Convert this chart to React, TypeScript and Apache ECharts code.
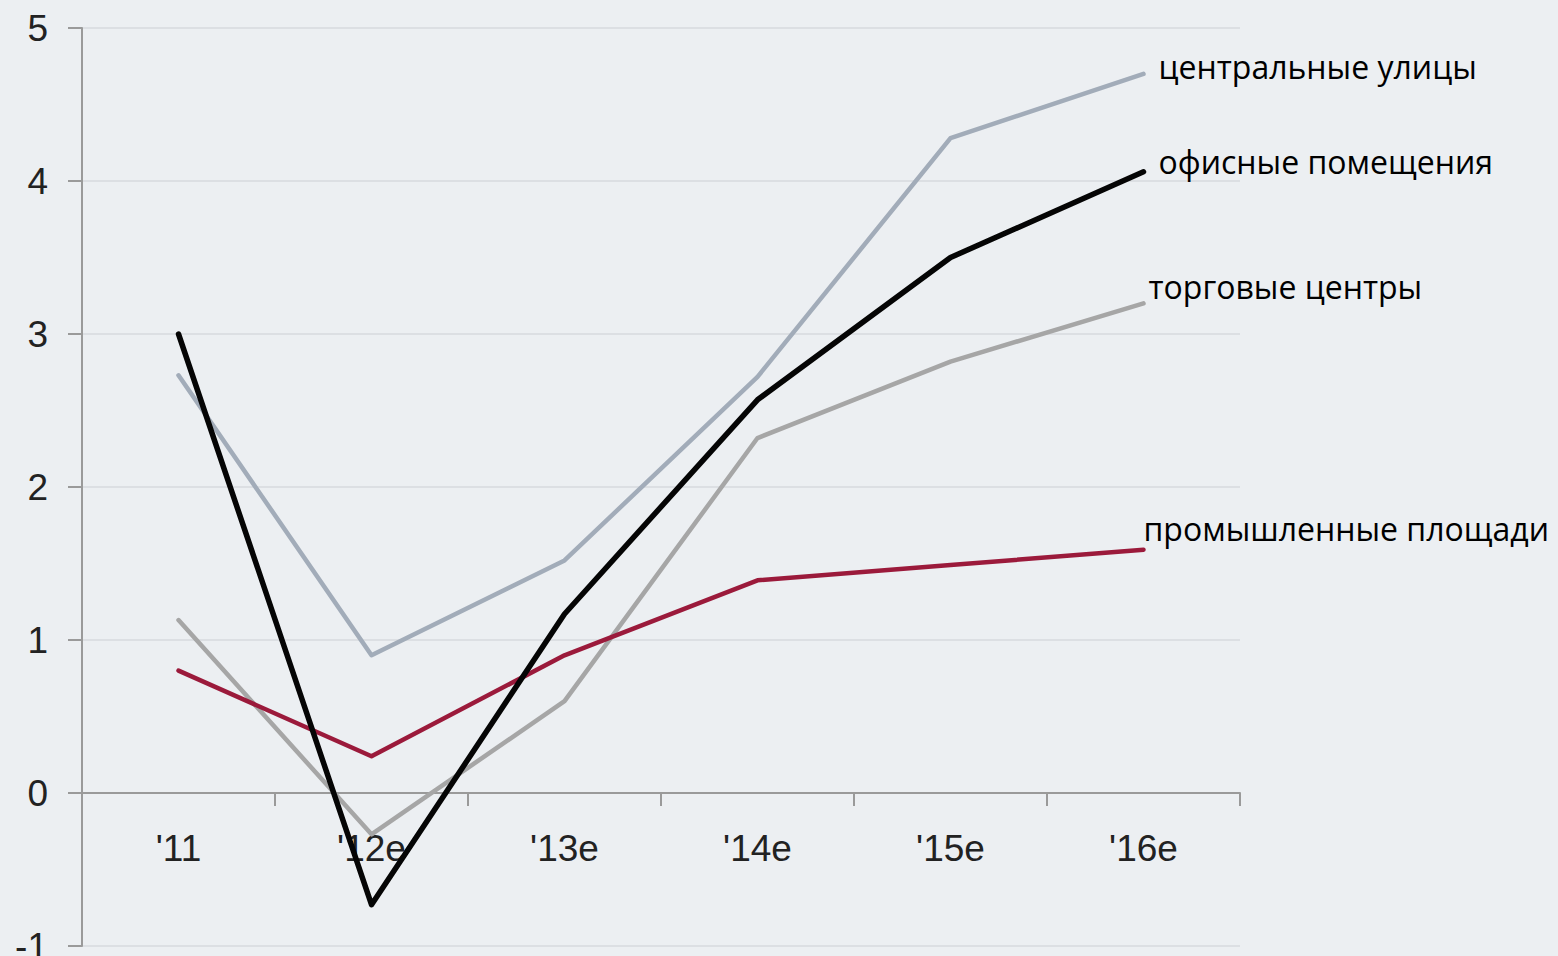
import React, { useEffect, useRef } from "react";
import * as echarts from "echarts";

// Year categories along the x axis
const years = ["'11", "'12e", "'13e", "'14e", "'15e", "'16e"];

// Growth values per segment
const centralStreets = [2.73, 0.9, 1.52, 2.72, 4.28, 4.7];
const offices = [3.0, -0.73, 1.17, 2.57, 3.5, 4.06];
const shoppingCentres = [1.13, -0.27, 0.6, 2.32, 2.82, 3.2];
const industrial = [0.8, 0.24, 0.9, 1.39, 1.49, 1.59];

const yTicks = [-1, 0, 1, 2, 3, 4, 5];

const labelFont = "'Open Sans', 'Noto Sans', sans-serif";
const axisFont = "'Liberation Sans', Arial, sans-serif";

function lineSeries(
  name: string,
  data: number[],
  color: string,
  width: number,
  offset: [number, number]
) {
  return {
    name,
    type: "line",
    data,
    symbol: "none",
    lineStyle: { color, width, cap: "round", join: "round" },
    endLabel: {
      show: true,
      formatter: () => name,
      distance: 0,
      offset,
      color: "#000",
      fontFamily: labelFont,
      fontSize: 32,
      align: "left",
      verticalAlign: "middle",
    },
  };
}

export default function App() {
  const ref = useRef<HTMLDivElement>(null);

  useEffect(() => {
    if (!ref.current) return;
    const chart = echarts.init(ref.current, undefined, { renderer: "svg" });
    chart.setOption({
      animation: false,
      backgroundColor: "#eceff2",
      grid: {
        left: 82,
        right: 318,
        top: 28,
        bottom: 10,
        containLabel: false,
        outerBoundsMode: "none",
      },
      xAxis: {
        type: "category",
        data: years,
        boundaryGap: true,
        axisLine: { onZero: true, lineStyle: { color: "#9a9a9a", width: 2 } },
        axisTick: { show: true, length: 13, inside: false, lineStyle: { color: "#9a9a9a", width: 2 } },
        axisLabel: {
          // category labels sit just under the zero line, not at the grid's bottom
          margin: -116,
          color: "#222",
          fontFamily: axisFont,
          fontSize: 37,
        },
        splitLine: { show: false },
      },
      yAxis: {
        type: "value",
        min: yTicks[0],
        max: yTicks[yTicks.length - 1],
        interval: 1,
        axisLine: { show: true, lineStyle: { color: "#9a9a9a", width: 2 } },
        axisTick: { show: true, length: 14, lineStyle: { color: "#9a9a9a", width: 2 } },
        axisLabel: {
          margin: 34,
          color: "#222",
          fontFamily: axisFont,
          fontSize: 37,
        },
        splitLine: { show: true, lineStyle: { color: "#dcdfe3", width: 2 } },
      },
      series: [
        lineSeries("центральные улицы", centralStreets, "#a2acb9", 4.5, [15, -7]),
        lineSeries("торговые центры", shoppingCentres, "#a6a6a6", 4.5, [5, -17]),
        lineSeries("промышленные площади", industrial, "#9b1a3b", 4.5, [0, -21]),
        lineSeries("офисные помещения", offices, "#050505", 5.5, [15, -10]),
      ],
    });
    return () => chart.dispose();
  }, []);

  return (
    <div
      ref={ref}
      style={{ position: "absolute", left: 0, top: 0, width: 1558, height: 956 }}
    />
  );
}
